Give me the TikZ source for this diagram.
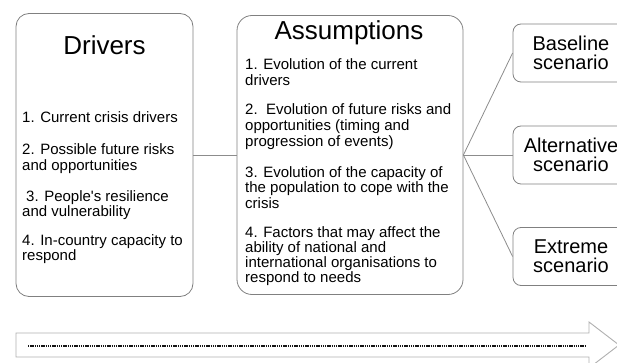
\documentclass[tikz,border=0pt]{standalone}
\usepackage{fontspec}
\setmainfont{Liberation Sans}
\definecolor{boxgray}{RGB}{128,128,128}
\definecolor{linegray}{RGB}{140,140,140}
\definecolor{arrowgray}{RGB}{175,175,175}
\definecolor{dotgray}{RGB}{20,20,20}
\tikzset{
  box/.style={draw=boxgray, line width=0.8pt, inner sep=0pt},
  title/.style={anchor=base, inner sep=0pt, font=\fontsize{26}{26}\selectfont},
  item/.style={anchor=base west, inner sep=0pt, font=\fontsize{15}{15}\selectfont},
  scen/.style={box, rounded corners=8pt, minimum width=116pt, minimum height=58pt,
    align=center, font=\fontsize{20}{19}\selectfont},
  conn/.style={draw=linegray, line width=0.8pt}
}
\begin{document}
\begin{tikzpicture}[x=1pt,y=-1pt]
        \useasboundingbox (0,0) rectangle (617,363);
        \clip (0,0) rectangle (617,363);
        % boxes
        \node[box, rounded corners=13pt, minimum width=177pt, minimum height=283pt] (drivers) at (104.5,155) {};
        \node[box, rounded corners=15pt, minimum width=226pt, minimum height=279pt] (assump) at (350,155) {};
        \node[scen] (base) at (571,53) {Baseline\\scenario};
        \node[scen] (alt) at (571,155) {Alternative\\scenario};
        \node[scen] (ext) at (571,256.5) {Extreme\\scenario};
        % titles
        \node[title] (drvtitle) at (104.5,55) {Drivers};
        \node[title] (astitle) at (349,40) {Assumptions};
        % drivers list
        \foreach \y/\txt [count=\i] in {123/{1. Current crisis drivers},
            155/{2. Possible future risks}, 171/{and opportunities},
            201/{\hspace{4pt}3. People\textquotesingle s resilience}, 216/{and vulnerability},
            245/{4. In-country capacity to}, 260/{respond}}
          \node[item] (drv\i) at (22,\y) {\txt};
        % assumptions list
        \foreach \y/\txt [count=\i] in {70/{1. Evolution of the current}, 86/{drivers},
            115/{2.\ \ Evolution of future risks and}, 131/{opportunities (timing and},
            147/{progression of events)},
            178/{3. Evolution of the capacity of}, 193/{the population to cope with the},
            208/{crisis},
            237/{4. Factors that may affect the}, 252/{ability of national and},
            267/{international organisations to}, 282/{respond to needs}}
          \node[item] (as\i) at (245,\y) {\txt};
        % connectors
        \draw[conn] (drivers.east) -- (assump.west);
        \draw[conn] (assump.east) -- (base.west);
        \draw[conn] (assump.east) -- (alt.west);
        \draw[conn] (assump.east) -- (ext.west);
        % time arrow
        \draw[draw=arrowgray, line width=0.9pt] (16,333) -- (589,333) -- (589,322) -- (619,345)
            -- (589,368) -- (589,357) -- (16,357) -- cycle;
        \draw[dotgray, line width=2pt, dash pattern=on 1.3pt off 0.9pt] (28,345.5) -- (585,345.5);
    \end{tikzpicture}
\end{document}
